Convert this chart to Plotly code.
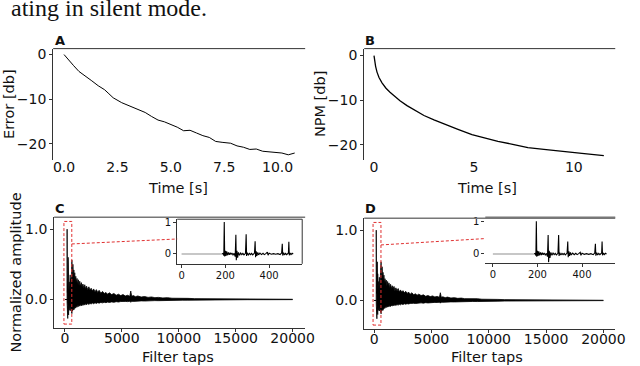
import plotly.graph_objects as go

W, H = 640, 366

# ---------------- data ----------------
err_time = [0.0, 0.2, 0.45, 0.7, 1.0, 1.3, 1.6, 1.9, 2.1, 2.3, 2.7, 3.1, 3.5, 3.8, 4.1, 4.4, 4.7, 5.0,
            5.3, 5.6, 5.9, 6.2, 6.5, 6.8, 7.1, 7.4, 7.8, 8.1, 8.4, 8.7, 9.0, 9.3, 9.6, 9.9, 10.2, 10.5, 10.8]
err_db = [0.0, -1.2, -2.5, -3.8, -4.8, -5.9, -7.0, -7.9, -8.8, -9.7, -10.8, -11.6, -12.4, -13.0, -13.9,
          -14.7, -15.1, -15.7, -16.3, -17.1, -17.0, -17.6, -18.2, -18.6, -19.5, -19.7, -19.9, -20.5,
          -20.8, -21.3, -21.2, -21.7, -21.8, -21.9, -22.1, -22.5, -22.1]

npm_time = [0.0, 0.03, 0.08, 0.15, 0.25, 0.4, 0.6, 0.8, 1.0, 1.3, 1.65, 2.0, 2.5, 3.0, 3.6, 4.2, 4.9,
            5.6, 6.2, 7.0, 7.7, 8.5, 9.4, 10.4, 11.5]
npm_db = [0.0, -1.2, -2.4, -3.7, -4.9, -6.1, -7.3, -8.2, -9.0, -10.1, -11.2, -12.1, -13.4, -14.4,
          -15.5, -16.5, -17.7, -18.6, -19.2, -19.9, -20.6, -21.0, -21.5, -21.9, -22.4]

env_taps = [0, 185, 190, 195, 205, 215, 230, 245, 260, 280,
            300, 320, 345, 370, 400, 430, 460, 490, 520, 550,
            580, 610, 640, 670, 700, 740, 780, 820, 860, 900,
            950, 1000, 1060, 1120, 1180, 1240, 1300, 1370, 1440, 1510,
            1580, 1660, 1740, 1820, 1900, 2000, 2100, 2200, 2300, 2400,
            2520, 2640, 2760, 2880, 3000, 3150, 3300, 3450, 3600, 3750,
            3900, 4100, 4300, 4500, 4700, 4900, 5100, 5300, 5500, 5700,
            5780, 5860, 6000, 6200, 6400, 6700, 7000, 7300, 7600, 7900,
            8200, 8600, 9000, 9400, 9800, 10300, 10800, 11400, 12000, 12800,
            13600, 14500, 16000, 18000, 20000]
c_hi = [0.0, 0.0, 1.0, 0.15, 0.35, 0.1, 0.62, 0.12, 0.3, 0.6,
        0.2, 0.4, 0.12, 0.25, 0.1, 0.2, 0.35, 0.15, 0.3, 0.2,
        0.28, 0.56, 0.25, 0.35, 0.5, 0.3, 0.42, 0.28, 0.38, 0.25,
        0.33, 0.24, 0.3, 0.22, 0.28, 0.2, 0.26, 0.19, 0.24, 0.18,
        0.22, 0.16, 0.21, 0.15, 0.19, 0.14, 0.18, 0.13, 0.16, 0.12,
        0.15, 0.11, 0.14, 0.1, 0.13, 0.09, 0.115, 0.085, 0.1, 0.075,
        0.095, 0.07, 0.085, 0.06, 0.075, 0.055, 0.07, 0.05, 0.06, 0.045,
        0.12, 0.045, 0.055, 0.04, 0.05, 0.035, 0.042, 0.03, 0.036, 0.026,
        0.03, 0.022, 0.026, 0.018, 0.02, 0.015, 0.016, 0.012, 0.011, 0.009,
        0.008, 0.006, 0.005, 0.004, 0.003]
c_lo = [0.0, 0.0, -0.05, -0.12, -0.26, -0.1, -0.18, -0.27, -0.1, -0.2,
        -0.12, -0.22, -0.08, -0.15, -0.07, -0.12, -0.16, -0.1, -0.14, -0.11,
        -0.17, -0.2, -0.13, -0.16, -0.14, -0.12, -0.15, -0.11, -0.13, -0.1,
        -0.12, -0.09, -0.11, -0.085, -0.1, -0.08, -0.095, -0.075, -0.09, -0.07,
        -0.085, -0.065, -0.08, -0.06, -0.075, -0.058, -0.07, -0.055, -0.065, -0.05,
        -0.06, -0.047, -0.056, -0.045, -0.052, -0.042, -0.048, -0.04, -0.045, -0.037,
        -0.042, -0.034, -0.04, -0.031, -0.036, -0.029, -0.033, -0.027, -0.03, -0.025,
        -0.04, -0.025, -0.027, -0.022, -0.025, -0.02, -0.022, -0.018, -0.02, -0.016,
        -0.017, -0.014, -0.015, -0.012, -0.012, -0.01, -0.01, -0.008, -0.007, -0.006,
        -0.005, -0.004, -0.003, -0.003, -0.002]
d_hi = [0.0, 0.0, 1.0, 0.12, 0.3, 0.1, 0.58, 0.14, 0.32, 0.55,
        0.22, 0.38, 0.1, 0.27, 0.12, 0.22, 0.33, 0.14, 0.32, 0.18,
        0.3, 0.55, 0.24, 0.37, 0.48, 0.3, 0.4, 0.27, 0.36, 0.24,
        0.31, 0.25, 0.29, 0.21, 0.27, 0.21, 0.25, 0.18, 0.23, 0.17,
        0.21, 0.17, 0.2, 0.14, 0.18, 0.14, 0.17, 0.12, 0.15, 0.12,
        0.14, 0.11, 0.13, 0.1, 0.12, 0.09, 0.11, 0.08, 0.095, 0.075,
        0.09, 0.07, 0.08, 0.06, 0.07, 0.055, 0.065, 0.05, 0.058, 0.045,
        0.11, 0.045, 0.052, 0.04, 0.048, 0.035, 0.04, 0.03, 0.034, 0.026,
        0.028, 0.022, 0.025, 0.018, 0.019, 0.015, 0.015, 0.012, 0.011, 0.009,
        0.008, 0.006, 0.005, 0.004, 0.003]
d_lo = [0.0, 0.0, -0.05, -0.1, -0.25, -0.1, -0.17, -0.26, -0.1, -0.19,
        -0.12, -0.2, -0.08, -0.14, -0.07, -0.12, -0.15, -0.1, -0.13, -0.11,
        -0.16, -0.19, -0.13, -0.15, -0.14, -0.12, -0.14, -0.11, -0.12, -0.1,
        -0.11, -0.09, -0.1, -0.085, -0.095, -0.08, -0.09, -0.075, -0.085, -0.07,
        -0.08, -0.065, -0.075, -0.06, -0.07, -0.058, -0.066, -0.055, -0.062, -0.05,
        -0.057, -0.047, -0.053, -0.045, -0.05, -0.042, -0.046, -0.04, -0.043, -0.037,
        -0.04, -0.034, -0.038, -0.031, -0.035, -0.029, -0.032, -0.027, -0.029, -0.025,
        -0.038, -0.025, -0.026, -0.022, -0.024, -0.02, -0.021, -0.018, -0.019, -0.016,
        -0.017, -0.014, -0.015, -0.012, -0.012, -0.01, -0.01, -0.008, -0.007, -0.006,
        -0.005, -0.004, -0.003, -0.003, -0.002]

inset_grey_taps = [0, 186]
inset_grey_vals = [0.0, 0.0]
inset_taps = [185, 190, 193, 195, 197, 200, 203, 206, 210, 214, 218, 222, 226, 230, 235, 240, 245, 248,
              250, 253, 256, 260, 265, 270, 275, 280, 285, 292, 295, 297, 300, 305, 310, 315, 320, 325,
              333, 336, 338, 341, 344, 348, 352, 358, 365, 372, 378, 385, 392, 395, 400, 410, 420, 430,
              440, 450, 457, 460, 462, 466, 470, 475, 480, 488, 490, 492, 496, 500, 505, 510]
c_inset = [0.0, 0.02, -0.05, 1.0, -0.08, 0.1, -0.06, 0.08, -0.04, 0.05, -0.03, 0.04, -0.02, 0.03, -0.03,
           0.02, -0.08, 0.6, -0.2, 0.1, -0.12, 0.05, -0.04, 0.03, -0.02, 0.02, -0.03, 0.02, 0.62, -0.06,
           0.04, -0.03, 0.02, -0.02, 0.02, -0.03, 0.03, 0.4, -0.1, 0.08, -0.06, 0.05, -0.03, 0.03, -0.02,
           0.02, -0.02, 0.01, 0.06, -0.04, 0.02, -0.01, 0.01, -0.01, 0.01, -0.02, 0.03, 0.32, -0.05, 0.04,
           -0.03, 0.02, -0.02, 0.03, 0.38, -0.04, 0.03, -0.02, 0.02, 0.0]
d_inset = [0.0, 0.02, -0.05, 1.0, -0.08, 0.1, -0.06, 0.08, -0.04, 0.05, -0.03, 0.04, -0.02, 0.03, -0.03,
           0.02, -0.08, 0.58, -0.25, 0.1, -0.12, 0.05, -0.04, 0.03, -0.02, 0.02, -0.03, 0.02, 0.58, -0.06,
           0.04, -0.03, 0.02, -0.02, 0.02, -0.03, 0.03, 0.38, -0.1, 0.08, -0.06, 0.05, -0.03, 0.03, -0.02,
           0.02, -0.02, 0.01, 0.05, -0.04, 0.02, -0.01, 0.01, -0.01, 0.01, -0.02, 0.03, 0.31, -0.05, 0.04,
           -0.03, 0.02, -0.02, 0.03, 0.38, -0.04, 0.03, -0.02, 0.02, 0.0]

err_ticks = [0, 2.5, 5, 7.5, 10]
err_ticktext = ["0.0", "2.5", "5.0", "7.5", "10.0"]
db_ticks = [0, -10, -20]
db_ticktext = ["0", "\u221210", "\u221220"]
npm_ticks = [0, 5, 10]
npm_ticktext = ["0", "5", "10"]
tap_ticks = [0, 5000, 10000, 15000, 20000]
tap_ticktext = ["0", "5000", "10000", "15000", "20000"]
amp_ticks = [0, 1]
amp_ticktext = ["0.0", "1.0"]
inset_xticks = [0, 200, 400]
inset_xticktext = ["0", "200", "400"]
inset_yticks = [0, 1]
inset_yticktext = ["0", "1"]

# ---------------- layout geometry (pixels) ----------------
def dom_x(a, b):
    return [a / W, b / W]

def dom_y(top, bottom):
    return [1 - bottom / H, 1 - top / H]

dom = {
    "A": (dom_x(54, 310), dom_y(46, 158)),
    "B": (dom_x(370, 625), dom_y(46, 158)),
    "C": (dom_x(55, 310), dom_y(216, 328)),
    "D": (dom_x(370, 625), dom_y(217, 329)),
    "Ci": (dom_x(180, 307), dom_y(218, 263)),
    "Di": (dom_x(493, 625), dom_y(216, 262)),
}
rng = {
    "A": ([-0.51, 11.29], [-23.6, 1.33]),
    "B": ([-0.49, 12.07], [-23.3, 1.56]),
    "C": ([-950, 21100], [-0.41, 1.17]),
    "D": ([-860, 21030], [-0.41, 1.17]),
    "Ci": ([-20, 551], [-0.31, 1.09]),
    "Di": ([-34, 549], [-0.27, 1.12]),
}

FONT = "DejaVu Sans"
SPINE = "#333333"
fig = go.Figure()

fig.add_trace(go.Scatter(x=err_time, y=err_db, mode="lines", line=dict(color="black", width=1),
                         xaxis="x", yaxis="y"))
fig.add_trace(go.Scatter(x=npm_time, y=npm_db, mode="lines", line=dict(color="black", width=1.3),
                         xaxis="x2", yaxis="y2"))

for hi, lo, xa, ya in [(c_hi, c_lo, "x3", "y3"), (d_hi, d_lo, "x4", "y4")]:
    fig.add_trace(go.Scatter(x=env_taps, y=lo, mode="lines", line=dict(color="black", width=0.8),
                             xaxis=xa, yaxis=ya))
    fig.add_trace(go.Scatter(x=env_taps, y=hi, mode="lines", line=dict(color="black", width=0.8),
                             fill="tonexty", fillcolor="black", xaxis=xa, yaxis=ya))

for vals, xa, ya in [(c_inset, "x5", "y5"), (d_inset, "x6", "y6")]:
    fig.add_trace(go.Scatter(x=inset_grey_taps, y=inset_grey_vals, mode="lines",
                             line=dict(color="#b5b5b5", width=1.5), xaxis=xa, yaxis=ya))
    fig.add_trace(go.Scatter(x=inset_taps, y=vals, mode="lines", line=dict(color="black", width=1.1),
                             xaxis=xa, yaxis=ya))

tickfont = dict(family=FONT, size=14, color="#111")
small_tickfont = dict(family=FONT, size=10, color="#111")

def xax(key, tickvals, ticktext, showline=True, ticks="outside", font=tickfont, anchor=None, standoff=0):
    return dict(domain=dom[key][0], range=rng[key][0], tickmode="array", tickvals=tickvals,
                ticktext=ticktext, showgrid=False, zeroline=False, showline=showline, linecolor=SPINE,
                linewidth=1, ticks=ticks, ticklen=3, tickcolor=SPINE, tickfont=font, anchor=anchor,
                fixedrange=True, ticklabelstandoff=standoff)

def yax(key, tickvals, ticktext, font=tickfont, anchor=None, showline=True):
    return dict(domain=dom[key][1], range=rng[key][1], tickmode="array", tickvals=tickvals,
                ticktext=ticktext, showgrid=False, zeroline=False, showline=showline, linecolor=SPINE,
                linewidth=1, ticks="outside", ticklen=3, tickcolor=SPINE, tickfont=font, anchor=anchor,
                fixedrange=True)

layout = dict(
    width=W, height=H, margin=dict(l=0, r=0, t=0, b=0), showlegend=False,
    paper_bgcolor="white", plot_bgcolor="rgba(0,0,0,0)", font=dict(family=FONT, color="#111"),
    xaxis=xax("A", err_ticks, err_ticktext, showline=False, ticks="", anchor="y", standoff=-3),
    yaxis=yax("A", db_ticks, db_ticktext, anchor="x"),
    xaxis2=xax("B", npm_ticks, npm_ticktext, showline=False, ticks="", anchor="y2", standoff=-3),
    yaxis2=yax("B", db_ticks, db_ticktext, anchor="x2"),
    xaxis3=xax("C", tap_ticks, tap_ticktext, anchor="y3", standoff=-6),
    yaxis3=yax("C", amp_ticks, amp_ticktext, anchor="x3"),
    xaxis4=xax("D", tap_ticks, tap_ticktext, anchor="y4", standoff=-6),
    yaxis4=yax("D", amp_ticks, amp_ticktext, anchor="x4"),
    xaxis5=xax("Ci", inset_xticks, inset_xticktext, font=small_tickfont, anchor="y5", standoff=-1),
    yaxis5=yax("Ci", inset_yticks, inset_yticktext, font=small_tickfont, anchor="x5"),
    xaxis6=xax("Di", inset_xticks, inset_xticktext, font=small_tickfont, anchor="y6", standoff=-1),
    yaxis6=yax("Di", inset_yticks, inset_yticktext, font=small_tickfont, anchor="x6", showline=False),
)
fig.update_layout(**layout)

shapes = []
# top spines
for xa, ya, col, w in [("x", "y", SPINE, 1), ("x2", "y2", SPINE, 1), ("x3", "y3", "#777", 1.6),
                       ("x4", "y4", "#777", 1.6), ("x5", "y5", SPINE, 1), ("x6", "y6", "#777", 1.6)]:
    shapes.append(dict(type="line", xref=xa + " domain", yref=ya + " domain", x0=0, x1=1, y0=1, y1=1,
                       line=dict(color=col, width=w)))
# right spine of inset C
shapes.append(dict(type="line", xref="x5 domain", yref="y5 domain", x0=1, x1=1, y0=0, y1=1,
                   line=dict(color=SPINE, width=1)))

def to_paper(key, xv, yv):
    (dx0, dx1), (dy0, dy1) = dom[key]
    (rx0, rx1), (ry0, ry1) = rng[key]
    return (dx0 + (xv - rx0) / (rx1 - rx0) * (dx1 - dx0), dy0 + (yv - ry0) / (ry1 - ry0) * (dy1 - dy0))

RED = "#e03030"
DASH = "3px,2px"
for key, ikey, xa, ya in [("C", "Ci", "x3", "y3"), ("D", "Di", "x4", "y4")]:
    shapes.append(dict(type="rect", xref=xa, yref=ya, x0=-90, x1=600, y0=-0.35, y1=1.11,
                       line=dict(color=RED, width=1, dash=DASH)))
    p0 = to_paper(key, 600, 0.79)
    p1 = to_paper(ikey, rng[ikey][0][0], 0.47)
    shapes.append(dict(type="line", xref="paper", yref="paper", x0=p0[0], y0=p0[1], x1=p1[0], y1=p1[1],
                       line=dict(color=RED, width=1, dash=DASH)))
fig.update_layout(shapes=shapes)

ann = []
def add_text(text, xp, yp, size, xanchor="center", yanchor="middle", angle=0, bold=False, family=FONT):
    ann.append(dict(text=("<b>%s</b>" % text) if bold else text, x=xp / W, y=1 - yp / H, xref="paper",
                    yref="paper", showarrow=False, xanchor=xanchor, yanchor=yanchor, textangle=angle,
                    font=dict(family=family, size=size, color="#111")))

add_text("ating in silent mode.", 9, 5, 24, xanchor="left", family="Liberation Serif")
add_text("A", 54, 37.5, 13, xanchor="left", bold=True)
add_text("B", 369, 37.5, 13, xanchor="left", bold=True)
add_text("C", 54, 207, 13, xanchor="left", bold=True)
add_text("D", 369, 207, 13, xanchor="left", bold=True)
add_text("Time [s]", 181, 187, 14.5)
add_text("Time [s]", 495, 187, 14.5)
add_text("Filter taps", 181, 357, 14.5)
add_text("Filter taps", 495, 357, 14.5)
add_text("Error [db]", 9, 102, 14.5, angle=-90)
add_text("NPM [db]", 325, 102, 14.5, angle=-90)
add_text("Normalized amplitude", 16, 272, 14.5, angle=-90)
fig.update_layout(annotations=ann)

fig.write_html("out.html", config={"displayModeBar": False},
               post_script="document.body.style.margin='0';document.body.style.overflow='hidden';")
